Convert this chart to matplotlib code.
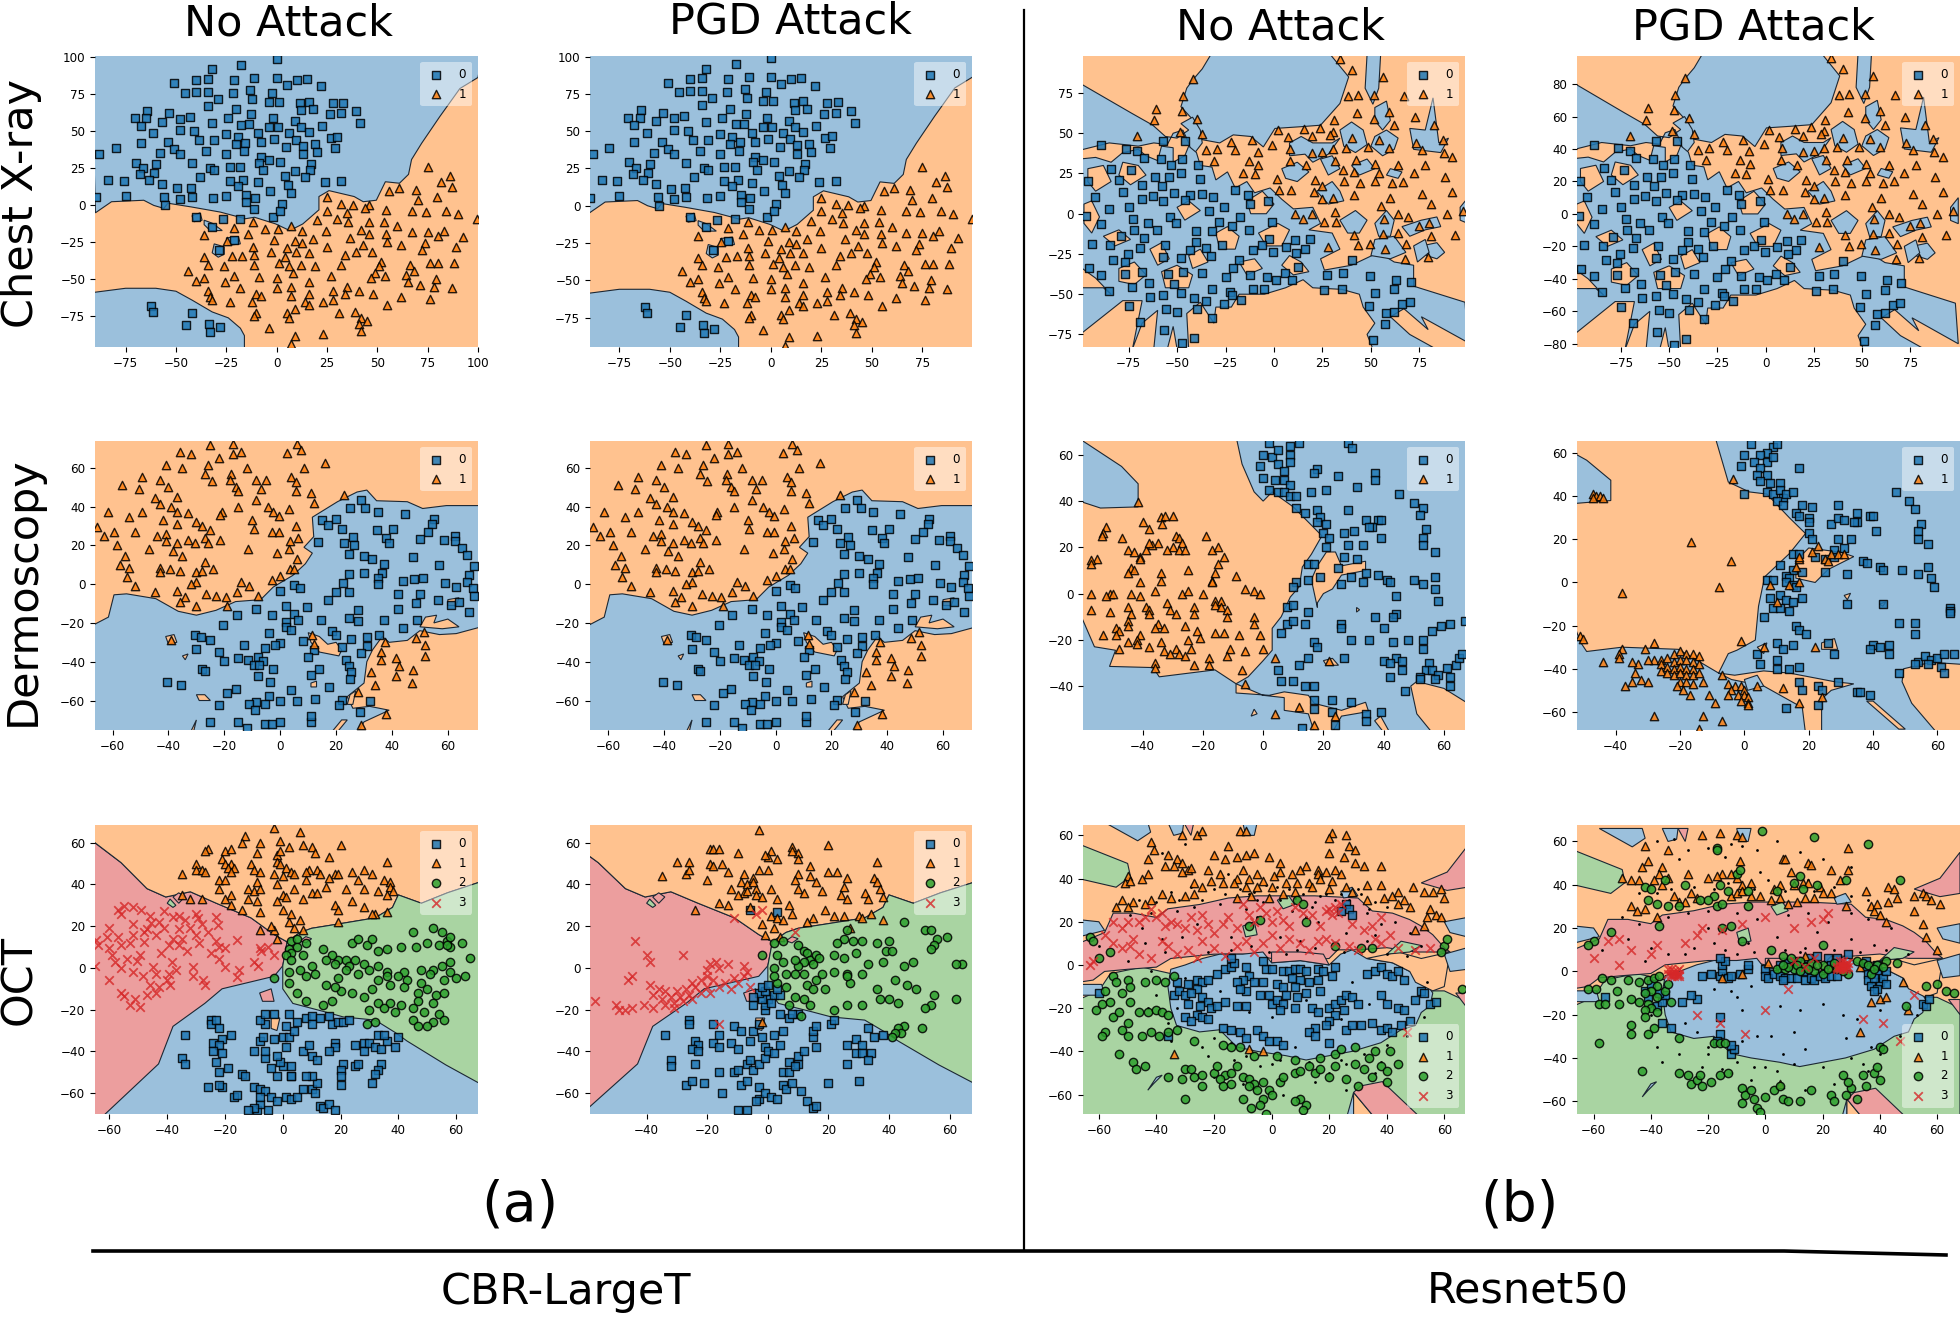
import matplotlib
matplotlib.use('Agg')
import matplotlib.pyplot as plt

W, H = 1960, 1318

# ---- points, one list per class ----
R1A_0 = [(0,99),(-17.5,95),(-32,92),(-51,82.5),(-40,85),(-34,85.5),(-21,85),(-11,86),(0,86),(10,85),(15,85.5),(5,81.5),(22,80.5),(-45.5,76),(-40,77),(-34,77),(-21.5,76),(-13,78),(-2.5,76),(-29,72),(-12,72),(-4,70),(1,70),(11.5,69),(16,70),(-34,67.5),(-20,65),(-12.5,61.5),(12,64.5),(18,65),(28,69),(33,69.5),(39.5,63.5),(32,62.5),(26.5,61.5),(-64.5,64),(-70.5,59),(-65,59),(-53.5,62.5),(-48,58.5),(-43,60),(-67.5,54),(-57,56.5),(-32,56),(-24,59),(-17.5,54.5),(-13.5,55),(-2,59),(-4,53),(0.5,53),(9,57),(12,53),(22.5,53.5),(41.5,55.5),(-61.5,49),(-48,51),(-41,50),(-25,48),(-9.5,49),(6,49),(16,49.5),(-67.5,42.5),(-54,43),(-38.5,44),(-31,44),(-19,46),(-20,41.5),(-15.5,42.5),(-8,43),(-1.5,45),(9.5,44.5),(19,41.5),(27,45.5),(30,46.5),(29,39),(4.5,39.5),(13,40.5),(-51,38),(-58,35.5),(-48,35),(-35,37),(-25,34.5),(-16,36.5),(-88,35),(-80,38.5),(13,34.5),(20,36),(-8,33),(-9,29),(-4,31),(1.5,29.5),(-70,29),(-60,28),(-42,28.5),(17,28),(-66.5,25),(-61,22),(-68,21),(-33,25),(-23,26),(-18,26),(-7,24),(9,23),(16.5,24),(-38,19),(-31,24),(-63.5,17),(-83.5,17),(-76,16.5),(-57,14.5),(-23,16.5),(-16.5,17.5),(-9.5,15.5),(4,20),(14,19.5),(24,16),(32,16.5),(-49.5,11.5),(-42.5,12),(-19,13),(5.5,14),(-3.5,10),(7,8.5),(-31.5,5),(-25,6.5),(-15,7),(-89.5,5.5),(-75,6.5),(-56,6),(-48,4.5),(-42,6),(-10.5,5),(-15,2.5),(2.5,1),(-55.5,0),(-11,-2.5),(-2,-7.5),(1.5,-3.5),(-40,-7.5),(-26.5,-9.5),(-18,-9),(-32,-14.5),(-21,-23.5),(-28.5,-30),(-62.5,-68),(-61.5,-72),(-42,-73),(-45,-81),(-33.5,-80),(-28,-82.5),(-33,-85.5)]
R1A_1 = [(75,26),(86,20),(81.5,16),(87,12.5),(69,10.5),(61,12),(56,10),(25,5.5),(79.5,5.5),(70,4),(32,1),(38,0.5),(46,0),(44,-1.5),(54.5,-3),(67,-3.5),(74,-4.5),(84,-3.5),(90,-5.5),(99.5,-9),(25,-3.5),(35,-5),(30,-9),(20,-10),(35.5,-11.5),(46,-11.5),(53.5,-11),(60,-14),(42,-16.5),(24.5,-17),(12.5,-17),(7,-14),(0.5,-16),(-6,-16),(-11.5,-11),(-21,-15),(67,-18),(75,-18),(83,-17),(92.5,-21.5),(80,-20.5),(54.5,-19),(46,-19),(36.5,-22),(18,-22.5),(9,-24),(-1.5,-23.5),(-14,-19),(-36,-20),(-24.5,-24),(55,-25),(62,-27),(73.5,-25.5),(89,-28),(43,-27),(25,-28),(12.5,-25.5),(5,-29),(-3,-31.5),(-11.5,-28),(72,-30),(47.5,-31.5),(39.5,-31.5),(34,-33.5),(16,-32),(9.5,-31.5),(4,-35),(-11,-33.5),(-17,-34),(-22,-34.5),(-36,-35),(-34,-40),(-26,-41),(-44,-44),(-36,-49),(-40,-51),(-21,-48),(-25.5,-52),(-9,-48.5),(0,-49),(8,-45.5),(-11,-40),(1,-39),(6,-41),(12,-40),(19,-41),(32,-40),(52,-38),(51,-41),(66,-40),(76,-39),(80,-39),(88,-39),(68,-44),(49,-46),(54,-48),(64,-47),(47,-49),(27,-48),(16,-52),(7,-55),(0,-56),(-18,-56),(-34,-58),(-33,-62),(-10,-60),(-8,-61),(7,-61),(16,-60),(28,-58),(35,-55),(41,-58),(48,-60),(65,-52),(71,-54),(79,-50),(87,-56),(78,-55),(62,-62),(76,-63),(55,-67),(34,-60),(28,-64),(23,-65),(14,-65),(16,-67),(9,-70),(-12,-65),(-23,-65),(-32,-64),(5,-73),(6,-76),(-10,-73),(31,-73),(39,-72),(42,-76),(45,-78),(41,-80),(42,-85),(23,-87),(9,-88),(-4,-83),(-11,-75),(7,-94)]
R2A_0 = [(29,43.5),(25,39.5),(30.5,39),(35,37),(44.5,36),(15,33),(17,30.5),(20,33.5),(22,28.5),(55,33.5),(54.5,31),(40.5,28.5),(34.5,28),(53,27),(50,23.5),(26,24.5),(38,24),(39,21),(62.5,25),(62.5,22),(58.5,23),(13.5,21.5),(23,21),(26.5,20),(65,18.5),(67,15),(24.5,15.5),(30,14.5),(33,13),(47.5,14),(37,10.5),(69.5,9.5),(57,10),(24.5,5),(30,5.5),(36.5,5.5),(35,3),(35,0),(44,1.5),(48,2.5),(51,3),(67.5,4.5),(67,1),(59,0.5),(63,-1.5),(69,-2),(69.5,-6),(22.5,0.5),(5,-0.5),(7,-2),(0,-3.5),(20,-4),(24.5,-4),(42,-5),(50,-5),(17,-8),(48.5,-9.5),(56.5,-8),(61,-11),(64,-9),(67.5,-14.5),(42,-13),(-8.5,-13),(2,-11.5),(9.5,-12),(-3,-16),(5,-15.5),(-15.5,-16),(28,-13.5),(2,-19.5),(6.5,-18.5),(14.5,-18.5),(24.5,-17.5),(28,-19),(37,-18.5),(49,-18.5),(-20.5,-21),(2,-22),(4,-23.5),(44,-22.5),(-4,-25),(35.5,-26),(-30.5,-26),(-28.5,-27),(-25,-29),(18.5,-24),(20,-26),(25.5,-28.5),(31,-27.5),(8,-29.5),(0,-30.5),(-2,-31.5),(-13,-31.5),(-5.5,-33),(-30,-33.5),(22,-32.5),(31,-32),(-22,-35),(12,-34),(-20,-39.5),(-15,-38),(-11.5,-39),(-8,-37.5),(-6,-39.5),(-9.5,-41.5),(-7.5,-41.5),(10,-37.5),(23.5,-39),(29,-35.5),(24.5,-42),(25.5,-45.5),(25,-49),(-2.5,-44),(-28,-43.5),(-27,-45),(14,-43.5),(11,-47),(-8,-47.5),(-3.5,-50.5),(-40.5,-50.5),(-35.5,-52),(-16,-54),(-19,-56),(4,-54.5),(17.5,-53),(-4,-57.5),(12.5,-59),(0,-60),(6,-60.5),(22,-59.5),(32,-60.5),(-8.5,-61),(-5.5,-62),(-11,-62),(-22,-62.5),(21,-62.5),(-9,-65),(28.5,-66),(-25,-71),(-15,-71),(-5.5,-72),(-3,-72),(0,-71),(11,-71),(11,-68),(-12,-74)]
R2A_1 = [(-25,71.5),(-17,72),(6,72.5),(7.5,69),(-36,68),(-32,67),(-14,68),(-17,67),(-22,65),(2.5,67.5),(16,62.5),(-41,61.5),(-26,61.5),(-35,60),(-12,60),(8.5,60),(-27,57),(-17.5,57),(-49.5,55),(-43,53.5),(-56.5,51),(-24.5,53),(-18,53.5),(-8.5,53.5),(-5,53.5),(4,55),(5.5,52.5),(-50.5,49),(-40,50),(-16,50),(-15,48),(-7,49),(5.5,48),(11,47),(23,46),(-45,44.5),(-37,45),(-8.5,43.5),(12,42),(-43,41.5),(-39,40),(-15,40),(-4.5,40),(3,38.5),(-61.5,37),(-49.5,37),(-37,37),(-33,36.5),(-21,37),(-21.5,35.5),(-2.5,37),(-0.5,35),(-54,34.5),(-42,33),(-30,32),(-10,33),(-65.5,29.5),(-37,31),(-28,30),(5.5,30),(-9.5,28.5),(-59.5,27),(-52,27),(-25,28),(-3,27),(-0.5,27),(-63,25),(-44,25),(-41,26),(-27,24),(-21.5,23),(-33,23),(-41,22),(-30.5,21),(-26,21),(-37,21),(6.5,24),(3.5,22),(-58.5,20),(-47,18),(-38.5,17),(-11.5,18),(3,18),(-1,16),(-55.5,14.5),(-35,14.5),(6,13),(-57.5,10),(-54,8.5),(-27,11.5),(-43,8.5),(-39.5,8),(-36,7),(-43,6.5),(-30,6.5),(-28,7),(-24,8),(3.5,8),(5,8),(-55,3.5),(0,4),(-3,2),(-14,1),(-30,1),(-32,0),(-52,-1),(-11,-1),(-37,-3.5),(-45,-4),(-15.5,-4),(-26.5,-5),(-23,-6),(-19.5,-6.5),(-34,-6.5),(-8,-6),(-36,-9),(-19,-11.5),(-30,-11.5),(11.5,-26),(12,-31),(37.5,-30),(51.5,-24.5),(48.5,-28),(52,-31.5),(52,-37),(36,-35),(36,-39),(41.5,-38),(42.5,-42),(32.5,-45.5),(41.5,-47.5),(47.5,-44.5),(47,-51),(34,-52),(28,-55.5),(38,-67),(29,-72.5),(-39,-29)]
R1B_0 = [(-89,42.5),(-76.5,40.5),(-70.5,39),(-57,45),(-46,45),(-67,34.5),(-58.5,34),(-53,30),(-47.5,34),(-96,20.5),(-84,28),(-73.5,27),(-80,21),(-61.5,23),(-54,23),(-48,25.5),(-39,30),(-68,18),(-58,17.5),(-38,21.5),(-92.5,10.5),(-78,13.5),(-68,9),(-62.5,11),(-51.5,13),(-43.5,11.5),(-31.5,10.5),(-20,14.5),(-13.5,11.5),(-57,8),(-46,8.5),(-37,12),(-3,8),(-97,-1.5),(-85,3),(-75,4),(-26,4),(-12.5,6),(-72.5,-3),(-65,-5.5),(-53.5,-2),(-50.5,-5.5),(-33.5,2),(-28.5,-5),(-17.5,-2),(-89,-6.5),(-72,-10),(-60.5,-10),(-40,-10.5),(-32,-11),(-21.5,-7.5),(-13,-10),(-1,-5),(-79,-14),(-67,-15),(-94,-19),(-84.5,-19.5),(-69,-21),(-56,-19.5),(-40,-17.5),(-27,-19.5),(-2.5,-16),(-6,-19.5),(11,-16.5),(6,-20.5),(18.5,-16),(16,-22),(-43.5,-22.5),(-35,-21.5),(-32.5,-26.5),(-75.5,-25),(-57,-27),(-48,-27.5),(-83,-28.5),(-11,-22.5),(-0.5,-23.5),(11.5,-24.5),(40,-29),(-18,-29),(-95.5,-34),(-77,-30),(-89,-38),(-77,-37.5),(-68,-36),(-54.5,-37.5),(-47,-36),(-37,-37),(-25,-39),(-21,-34),(-12.5,-38),(-3.5,-39),(12.5,-33),(5.5,-37),(27.5,-38),(35.5,-37),(49.5,-38.5),(63,-41),(70.5,-42.5),(-73,-45.5),(-64.5,-43),(-51.5,-43.5),(-85,-48),(-32,-46.5),(-22.5,-48.5),(-11,-46.5),(-5,-46.5),(1,-41),(9.5,-41),(26,-47.5),(35,-46.5),(52,-49.5),(62,-47),(-64,-52),(-57,-50.5),(-48,-49.5),(-41,-52.5),(-35,-54.5),(-21.5,-50.5),(-17,-53.5),(-26,-56),(-75,-57.5),(-55.5,-59.5),(-50,-61),(-39.5,-59.5),(49,-57.5),(58,-61.5),(62,-61),(66,-56),(70,-55),(-32,-65),(-69,-67),(57,-68.5),(-56.5,-72.5),(-41,-77),(-47.5,-80.5),(51,-78.5)]
R1B_1 = [(34,96),(40,89),(56,85),(-42,84),(38,73),(43.5,74),(51.5,74),(67,73),(-47,73),(-61,65),(-47.5,64),(59.5,63.5),(-39.5,59),(-62,58),(31,58),(43,62.5),(51.5,59),(72.5,60),(82.5,55),(62,55),(2,52),(15.5,52.5),(23.5,53.5),(30.5,51),(-48.5,51),(-37,49.5),(-70.5,48),(-22,44.5),(-11.5,45.5),(40,47),(7,47.5),(19.5,48),(29,49),(54,46),(73,44),(87,46),(-35,39.5),(-29.5,40.5),(-1,43),(-20,39.5),(-8.5,38.5),(8.5,40.5),(19.5,38),(25,38.5),(30.5,40.5),(37,41),(48.5,41.5),(59.5,41),(76.5,39.5),(87.5,38),(92,35),(-31,33),(-13,33),(-8,30.5),(8,33),(16.5,30),(31.5,33),(42.5,33.5),(52,31),(64,30),(78,30),(-16,25),(-10,24.5),(1.5,21.5),(35.5,27),(41,26),(54,25.5),(72,25),(88,23),(21,21),(25,17.5),(36,20.5),(44.5,19),(52,20.5),(61,19),(66.5,20),(2.5,14.5),(9,15),(20.5,13.5),(76.5,12.5),(92,13.5),(25,9),(30.5,9.5),(41,11.5),(60,9.5),(81,6),(55,4.5),(11,0),(19.5,0),(31.5,1),(64,0),(89,0),(97.5,2),(56.5,-3),(69,-2),(80,-5.5),(15,-3),(26,-5),(32,-5),(75,-7.5),(93.5,-13),(41,-13),(56,-12.5),(64,-12),(81,-14),(49.5,-18.5),(68,-18.5),(28,-20.5),(43.5,-19.5),(57,-22),(67.5,-28),(79.5,-27)]
R2B_NO_0 = [(2,65),(9,64),(12,65),(28,65),(29.5,63),(0,60),(3,59),(5,62),(9,60),(9,57),(18,54),(-1,55),(5,56),(7,53),(0,50),(4,49),(7,49),(9,47),(17,52),(25,51),(37,52),(37,49),(2,45),(5,44),(7,44),(9,42),(11,42),(16,44),(21,45),(31,46),(45,43),(50,39),(53,37),(11,37),(14,35),(18,36),(19,33),(28,36),(34,32),(38,32),(39,32),(52,34),(18,31),(21,30),(36,29),(35,29),(20,26),(22,24),(27,26),(30,27),(54,28),(53,24),(53,21),(39,24),(21,20),(28,21),(33,21),(57,18),(27,16),(31,15),(15,13),(17,13),(25,11),(19,7),(29,7),(34,9),(38,8),(41,6),(50,6),(57,7),(11,5),(15,6),(26,4),(33,5),(42,5),(10,3),(53,4),(57,2),(44,-1),(58,-3),(8,-6),(10,-5),(15,-8),(37,-10),(44,-9),(43,-10),(59,-14),(62,-13),(67,-12),(8,-13),(10,-12),(14,-13),(26,-13),(26,-15),(40,-15),(56,-16),(6,-17),(17,-21),(18,-23),(29,-20),(35,-20),(43,-21),(48,-20),(53,-20),(53,-24),(27,-28),(40,-29),(44,-28),(46,-29),(15,-28),(12,-31),(46,-33),(42,-30),(55,-30),(54,-33),(52,-36),(56,-33),(58,-35),(61,-32),(64,-31),(65,-28),(66,-26),(5,-33),(6,-38),(10,-38),(14,-40),(17,-40),(42,-36),(52,-37),(57,-37),(62,-36),(47,-42),(62,-40),(17,-46),(23,-46),(29,-47),(17,-50),(34,-52),(39,-51),(23,-51),(34,-55),(13,-58),(24,-57)]
R2B_NO_1 = [(-41.5,39.5),(-34,33),(-32.5,33.5),(-30,33.5),(-33.5,30),(-40,31),(-38,28),(-52,29),(-53,26),(-53.5,25),(-47,24),(-29,25),(-28,24),(-27,22),(-19,25),(-35,22),(-37,21),(-39,19),(-38,22),(-30,20),(-32,19),(-28,19),(-26,19),(-45,19),(-43,18),(-41,16),(-41,15),(-17,19),(-15,20),(-13,16),(-55,15),(-57,14.5),(-57,13),(-15,13),(-44,11),(-43,10),(-25,10),(-34,9),(-45,9),(-16,9),(-9,7.5),(-34,5.5),(-41,5),(-17,5.5),(-17,5),(-6,2),(-3,1),(-1,0),(-51,0),(-57,0),(-52,-1),(-50,0),(-44,0),(-41,-1),(-36,1),(-27,0),(-20,0),(-25,1),(-16,-3),(-14,-3),(-16,-5),(-32,-4),(-45,-6),(-39,-6),(-38,-7),(-31,-7),(-23,-6),(-14,-6),(-12,-7),(-57,-7),(-51,-8),(-44,-9),(-38,-9),(-29,-9),(-23,-9),(-12,-10),(-3,-10),(-45,-12),(-35,-13),(-26,-14),(-45,-14),(-49,-15),(-48,-16),(-36,-15),(-33,-15),(-22,-16),(-16,-17),(-13,-17),(-3,-13),(-53,-18),(-49,-18),(-41,-18),(-42,-20),(-34,-21),(-25,-20),(-21,-19),(-8,-18),(-1,-18),(-45,-21),(-42,-22),(-38,-23),(-29,-24),(-24,-24),(-48,-24),(-33,-25),(-28,-26),(-11,-24),(-6,-25),(0,-24),(-31,-26),(-26,-27),(-18,-28),(-36,-30),(-18,-31),(-12,-27),(-23,-31),(-36,-32),(-7,-33),(-6,-39),(4,-28),(22,-29),(12,-49),(4,-52),(17,-57),(24,-53)]
R2B_PG_0 = [(2,64),(9,63),(10,64),(0,59),(7,60),(5,59),(3,56),(7,56),(9,58),(-1,54),(5,53),(17,53),(4,50),(7,50),(5,47),(8,46),(11,46),(0,41),(7,42),(9,41),(11,43),(12,39),(13,41),(15,42),(10,38),(12,36),(47,42),(51,38),(53,34),(18,36),(21,35),(29,36),(35,32),(39,31),(40,31),(16,32),(17,31),(20,30),(35,28),(20,28),(27,27),(29,30),(31,29),(34,28),(41,24),(55,27),(54,24),(54,20),(20,23),(21,20),(29,20),(33,20),(57,18),(28,15),(31,16),(15,13),(17,13),(37,10),(22,12),(25,11),(28,12),(38,9),(42,7),(43,6),(49,6),(57,7),(11,8),(15,6),(13,3),(14,2),(25,5),(32,4),(18,5),(54,4),(58,2),(7,1),(9,1),(13,0),(15,-1),(16,-2),(59,-2),(8,-7),(11,-6),(13,-8),(18,-7),(15,-9),(32,-10),(9,-12),(11,-12),(14,-13),(43,-10),(64,-12),(64,-13),(64,-14),(6,-16),(16,-20),(17,-22),(19,-24),(48,-19),(53,-19),(53,-24),(10,-28),(15,-29),(26,-28),(40,-29),(42,-30),(45,-29),(39,-31),(12,-31),(45,-33),(4,-33),(10,-36),(10,-40),(14,-40),(17,-39),(28,-33),(54,-37),(56,-34),(58,-36),(60,-35),(62,-33),(65,-33),(53,-38),(57,-38),(61,-39),(5,-38),(48,-42),(62,-42),(17,-46),(23,-48),(29,-46),(18,-50),(24,-50),(35,-51),(39,-52),(23,-57),(36,-51),(13,-58)]
R2B_PG_1 = [(-47,41),(-46,40),(-45,40),(-44,39),(-47,39),(-3.5,48),(-16.5,19),(-4,10),(-8,-2),(-38,-5),(-51,-25),(-50,-26),(-38,-31),(-39,-33),(-39,-35),(-44,-37),(-31,-31),(-28,-28),(-28,-36),(-30,-36),(-33,-38),(-35,-37),(-26,-36),(-24,-35),(-22,-33),(-20,-32),(-18,-33),(-16,-33),(-14,-34),(-34,-42),(-35,-46),(-37,-48),(-32,-45),(-30,-46),(-26,-38),(-26,-41),(-24,-39),(-24,-42),(-22,-37),(-22,-40),(-22,-43),(-20,-36),(-20,-39),(-20,-42),(-20,-46),(-18,-36),(-18,-40),(-18,-43),(-18,-46),(-16,-37),(-16,-40),(-16,-43),(-16,-47),(-14,-38),(-14,-42),(-13,-46),(-21,-48),(-19,-50),(-17,-52),(-11,-52),(-9,-56),(-7,-43),(-5,-47),(-3,-48),(-1,-48),(-4,-50),(0,-50),(-5,-52),(-2,-52),(0,-52),(-1,-55),(1,-53),(1,-56),(1,-57),(4,-48),(12,-49),(17,-56),(24,-53),(-13,-62),(-7,-64),(-28,-62),(-14,-68),(6,-30),(22,-30),(10,-9),(8,-1),(14,-1),(16,7),(17,11),(23,17),(17,12),(21,14),(25,11),(26,10),(27,13),(29,13),(31,13),(17,0),(-1,-27)]
R3A_NO_0 = [(-25,-25),(-25,-27),(-23,-25),(-22,-29),(-34,-32),(-24,-36),(-21,-34),(-22,-37),(-18,-32),(-21,-41),(-24,-40),(-35,-43),(-34,-46),(-23,-45),(-22,-50),(-19,-48),(-14,-51),(-13,-52),(-26,-57),(-21,-57),(-22,-56),(-17,-62),(-16,-61),(-10,-57),(-8,-58),(-6,-59),(-9,-68),(-5,-68),(-8,-65),(-8,-62),(-4,-62),(-2,-64),(1,-62),(3,-63),(5,-62),(7,-58),(10,-58),(11,-60),(12,-55),(10,-52),(8,-52),(3,-52),(-2,-52),(-4,-48),(0,-47),(3,-47),(-1,-45),(-6,-43),(-10,-40),(-6,-40),(-8,-35),(-7,-33),(-3,-34),(0,-33),(2,-33),(4,-30),(1,-28),(-6,-27),(-8,-25),(-6,-22),(-3,-22),(2,-22),(5,-26),(8,-24),(10,-23),(13,-24),(10,-27),(17,-27),(19,-26),(21,-26),(16,-23),(23,-25),(18,-36),(18,-38),(16,-40),(10,-42),(12,-44),(7,-40),(9,-37),(1,-38),(-2,-42),(3,-52),(21,-46),(20,-49),(20,-52),(20,-56),(25,-47),(25,-37),(28,-36),(28,-40),(30,-36),(32,-38),(34,-39),(36,-35),(33,-32),(35,-32),(39,-38),(40,-33),(34,-46),(33,-49),(32,-51),(31,-55),(26,-46),(-10,-67),(-12,-68),(13,-66),(14,-67),(16,-65),(18,-68)]
R3A_NO_1 = [(-3,67),(6,65),(-13,63),(-14,60),(-8,60),(-1,61),(7,59),(10,58),(2,58),(20,59),(-26,57),(-27,56),(-20,56),(-18,57),(-9,55),(-2,54),(-1,56),(11,55),(16,53),(36,51),(-30,50),(-30,47),(-21,52),(-20,50),(-18,50),(-11,50),(-2,51),(-1,50),(-17,48),(-19,48),(-18,46),(1,48),(9,47),(-35,45),(-28,47),(-27,46),(-10,47),(-8,46),(-3,45),(3,46),(4,45),(8,46),(12,47),(13,45),(18,45),(19,45),(24,46),(28,47),(31,45),(-22,42),(-20,42),(-9,41),(-12,38),(0,44),(-2,40),(8,42),(16,43),(26,42),(35,42),(37,41),(-22,38),(-10,37),(-8,38),(0,35),(4,38),(10,36),(15,39),(22,38),(28,38),(33,37),(37,39),(38,37),(-20,33),(-18,35),(-12,33),(-9,32),(-2,32),(1,34),(7,33),(12,36),(18,30),(24,32),(36,35),(-35,35),(-32,33),(-28,33),(-18,30),(-14,28),(-8,27),(0,28),(3,26),(6,23),(19,28),(19,22),(32,26),(36,27),(31,26),(28,29),(-8,18),(-3,18),(-2,14),(-4,20),(2,22),(4,19),(7,18)]
R3A_NO_2 = [(3,13),(5,14),(8,12),(14,9),(2,9),(5,10),(7,6),(3,7),(1,6),(3,4),(19,4),(22,4),(25,4),(17,6),(24,12),(26,14),(29,11),(31,14),(33,8),(36,9),(41,10),(46,10),(50,12),(54,11),(57,13),(58,10),(62,12),(52,19),(55,17),(58,15),(57,11),(45,17),(65,5),(58,3),(55,1),(52,-1),(48,-1),(42,-2),(36,-2),(33,1),(28,2),(23,1),(18,2),(15,4),(10,1),(6,-1),(2,-2),(-3,-5),(2,-7),(8,-4),(11,-3),(15,-8),(19,-5),(22,-1),(26,-3),(30,-1),(33,-6),(36,-4),(40,-4),(43,-6),(48,-7),(51,-3),(58,-2),(63,-4),(60,-5),(56,-6),(50,-10),(47,-12),(53,-13),(56,-12),(47,-16),(45,-19),(52,-17),(54,-22),(49,-21),(41,-18),(37,-17),(33,-17),(30,-20),(28,-14),(24,-12),(20,-11),(18,-9),(17,-16),(14,-18),(8,-16),(5,-12),(42,-9),(37,-8),(31,-10),(35,-19),(39,-21),(45,-25),(52,-26),(56,-25),(47,-28),(50,-28),(32,-26),(29,-27)]
R3A_NO_3 = [(-57,28),(-55,29.5),(-52,29),(-49,28),(-56,26),(-46,25),(-41,27.5),(-38,24.5),(-36,25),(-30,26),(-29.5,24),(-23,24.5),(-52,21),(-45.5,21.5),(-22.5,20.5),(-60,19),(-47,18.5),(-41,19),(-36,18.5),(-32,19),(-26,17),(-64.5,13.5),(-61,15),(-57,15),(-52,16),(-44,16),(-38,14),(-35,14),(-23,13),(-16,13.5),(-64,11),(-60,9.5),(-56,11),(-48,12.5),(-39.5,11),(-36,11),(-22,10),(-20,9.5),(-8,9.5),(-7.5,8),(-54,4.5),(-49.5,6),(-65,1),(-58,3),(-56,0),(-50.5,3.5),(-45,0.5),(-38.5,3),(-31,0.5),(-22,4.5),(-20,0.5),(-8.5,1),(-3,6),(-60,-6),(-48.5,-4),(-39.5,-3),(-31,-4),(-27.5,-6),(-16,-4.5),(-46,-8),(-43,-9),(-56,-12),(-47,-13),(-53,-18),(-49.5,-18.5),(-55,-13.5),(-40,-6),(-37,-1),(-33,8),(-29,12),(-30,16),(-28,21),(-34,23),(-43,22),(-48,17),(-53,12),(-59,6),(-42,7),(-44,-3),(-52,-2),(-25,7),(-15,-1),(-10,3),(-5,10),(-39,-8),(-27,-8),(-44,-12),(-51,-15)]
R3A_PG_0 = [(-34,-32),(-26,-25),(-26,-27),(-18,-27),(-16,-32),(-11,-28),(-9,-30),(-5,-30),(-3,-27),(-24,-35),(-23,-37),(-25,-39),(-23,-40),(-18,-36),(-16,-38),(-12,-36),(-10,-39),(-32,-44),(-32,-47),(-24,-46),(-16,-50),(-11,-50),(-10,-49),(-27,-56),(-25,-54),(-21,-55),(-15,-60),(-9,-56),(-7,-54),(-7,-46),(-6,-44),(-5,-49),(-3,-46),(-1,-43),(-1,-38),(0,-40),(2,-41),(4,-37),(-6,-35),(-2,-33),(2,-32),(5,-30),(-3,-57),(-3,-63),(-1,-60),(-10,-68),(-7,-68),(-4,-64),(1,-62),(3,-63),(5,-56),(5,-50),(7,-50),(7,-45),(10,-46),(10,-42),(12,-40),(9,-47),(6,-58),(8,-55),(11,-59),(13,-64),(15,-67),(16,-66),(20,-55),(30,-54),(26,-46),(26,-37),(29,-34),(31,-37),(29,-41),(31,-41),(35,-33),(34,-41),(33,-44),(16,-38),(15,-33),(15,-30),(16,-28),(21,-27),(22,-25),(10,-22),(7,-24),(4,-22),(-1,-20),(-1,-18),(0,-15),(-2,-15),(-3,-12),(-1,-11),(-2,-9),(0,-8),(2,-13),(1,-17),(-5,-18),(-5,-14),(4,-13),(3,-10),(8,-22),(-6,28),(3,27),(33,-29),(38,-32)]
R3A_PG_1 = [(-3,66),(20,59),(8,58),(-19,57),(-18,57),(-16,57),(10,55),(1,56),(8,56),(-10,55),(0,53),(-1,54),(36,51),(-30,51),(-26,51),(-19,50),(-18,49),(-15,50),(3,52),(10,52),(14,49),(23,46),(-27,45),(-26,47),(-13,46),(-8,45),(-5,43),(-4,38),(0,47),(-3,47),(10,45),(14,44),(20,46),(26,43),(35,43),(-35,44),(-20,42),(-12,38),(-9,41),(-7,40),(-5,41),(-8,36),(-7,37),(-4,35),(1,38),(9,42),(10,38),(16,41),(25,39),(36,41),(37,38),(-10,35),(-2,34),(3,33),(12,36),(18,37),(24,35),(32,36),(38,34),(-24,28),(-16,31),(-13,30),(7,30),(26,33),(33,33),(-6,29),(-2,21),(1,25),(3,24),(5,23),(-1,16),(2,19),(4,15),(8,26),(19,28),(22,25),(25,25),(30,25),(31,24),(34,26),(38,23),(13,22),(15,24),(27,19),(-2,-26)]
R3A_PG_2 = [(2,12),(5,13),(10,11),(26,18),(45,22),(52,18),(54,18),(59,15),(12,8),(25,14),(23,12),(28,13),(31,13),(36,12),(40,13),(56,14),(55,11),(54,9),(39,8),(41,8),(3,6),(5,3),(-2,6),(13,7),(14,4),(15,2),(12,3),(10,1),(9,4),(16,6),(17,5),(22,6),(25,5),(29,7),(33,2),(38,3),(45,1),(48,3),(64,2),(62,2),(2,0),(6,-3),(9,-3),(12,-3),(18,-3),(22,-2),(26,-3),(31,-3),(27,-7),(16,-6),(13,-8),(15,-10),(19,-10),(26,-4),(42,-6),(46,-8),(49,-10),(36,-10),(55,-13),(40,-15),(43,-17),(37,-15),(12,-15),(9,-14),(6,-9),(3,-7),(2,-4),(26,-18),(31,-18),(54,-18),(62,-15),(52,-19),(14,-18),(7,-18),(11,-23),(22,-20),(45,-28),(43,-29),(44,-31),(42,-31),(51,-29),(41,-33)]
R3A_PG_3 = [(-44,13),(-40,6),(-39,3),(-28,6),(-45,-4),(-46,-6),(-17,3),(-19,2),(-20,-1),(-16,0),(-13,2),(-8,1),(-7,-2),(-8,-4),(-11,-5),(-20,-4),(-22,-6),(-25,-7),(-18,-6),(-14,-7),(-10,-7),(-16,-9),(-20,-9),(-24,-9),(-27,-10),(-30,-11),(-34,-11),(-12,-10),(-6,-9),(-22,-12),(-26,-13),(-29,-14),(-32,-14),(-35,-15),(-19,-12),(-28,-16),(-31,-17),(-34,-18),(-25,-15),(-38,-19),(-41,-18),(-36,-10),(-38,-13),(-31,-19),(-39,-8),(-57,-16),(-50,-18),(-49,-20),(-47,-20),(-45,-19),(-2,28),(-4,26),(-16,-27),(9,17),(-11,24)]
R3B_NO_0 = [(-60,-13),(-34,-14),(-32,-12),(-30,-14),(-33,-8),(-29,-9),(-26,-7),(-24,-8),(-22,-7),(-19,-4),(-16,-2),(-14,-1),(-13,1),(-14,3),(-9,-1),(-8,-5),(-10,-7),(-12,-8),(-6,-8),(-3,-8),(-2,-2),(-3,2),(0,-2),(4,-3),(6,-3),(8,-2),(10,-2),(12,-3),(16,-2),(18,-3),(22,-1),(21,-5),(7,-6),(10,-7),(13,-8),(16,-7),(8,-10),(2,-9),(4,-10),(-9,-12),(-11,-11),(-4,-14),(-1,-14),(5,-14),(9,-15),(12,-13),(17,-12),(-26,-11),(-28,-13),(-24,-15),(-22,-17),(-29,-18),(-25,-19),(-21,-20),(-19,-19),(-16,-17),(-12,-19),(-9,-19),(0,-18),(2,-16),(4,-18),(8,-20),(3,-21),(14,-20),(16,-22),(20,-20),(22,-18),(24,-16),(26,-14),(28,-15),(30,-18),(25,-21),(22,-23),(20,-26),(19,-28),(15,-29),(-36,-33),(-26,-23),(-24,-24),(-22,-25),(-30,-24),(-28,-26),(-17,-29),(-14,-30),(-11,-31),(-9,-34),(-5,-30),(-3,-33),(-1,-35),(2,-35),(4,-37),(13,-31),(15,-33),(20,-36),(26,-30),(28,-28),(31,-28),(35,-27),(38,-30),(40,-29),(42,-31),(45,-28),(48,-26),(38,-14),(40,-18),(44,-20),(46,-21),(50,-16),(55,-18),(57,-17),(52,-12),(33,-4),(36,-3),(38,-1),(40,-4),(42,-5),(44,-3),(46,-7),(53,-13),(26,28),(27,26),(24,25),(28,23)]
R3B_NO_1 = [(-42,57),(-41,53),(-43,49),(-36,51),(-33,49),(-37,46),(-34,46),(-31,47),(-29,44),(-28,45),(-31,43),(-43,42),(-50,41),(-51,38),(-49,39),(-45,40),(-26,60),(-24,62),(-31,60),(-11,62),(-9,62),(-6,52),(-15,55),(-20,51),(-16,49),(-12,50),(-9,51),(-1,50),(3,47),(16,44),(21,61),(20,59),(26,60),(20,52),(27,55),(29,53),(25,50),(29,47),(32,46),(38,46),(-22,44),(-27,38),(-24,36),(-18,42),(-12,40),(-10,44),(-8,40),(-5,42),(-3,39),(1,41),(3,43),(7,42),(10,44),(12,46),(16,42),(19,43),(22,44),(24,42),(21,39),(17,40),(13,38),(9,38),(5,38),(0,36),(-5,36),(-9,36),(-13,38),(-17,38),(-21,39),(-27,33),(-30,32),(-35,31),(-38,33),(-42,30),(-48,29),(-52,30),(-54,27),(-50,27),(-44,28),(-12,31),(-7,32),(-1,31),(4,33),(8,34),(14,36),(20,35),(26,36),(28,34),(33,37),(38,37),(42,32),(46,30),(44,34),(49,36),(53,34),(56,34),(59,35),(60,31),(39,31),(33,30),(48,27),(55,26),(57,23),(59,22),(54,22),(50,16),(53,18),(44,28),(-34,-41),(-8,-39),(-3,-40)]
R3B_NO_2 = [(-63,13),(-62,11),(-60,3),(-56,6),(-55,-5),(-54,-8),(-50,-7),(-49,-10),(-52,-13),(-58,-12),(-44,-8),(-40,-7),(-37,-8),(-34,-5),(-61,-21),(-59,-18),(-56,-17),(-55,-24),(-53,-22),(-49,-17),(-46,-22),(-43,-22),(-40,-21),(-38,-22),(-36,-23),(-50,-27),(-52,-30),(-58,-31),(-59,-33),(-50,-33),(-45,-33),(-42,-31),(-39,-33),(-36,-31),(-33,-30),(-27,-35),(-53,-41),(-48,-45),(-44,-47),(-47,-48),(-36,-52),(-30,-48),(-28,-48),(-27,-52),(-24,-51),(-20,-50),(-19,-47),(-16,-51),(-18,-53),(-14,-50),(-12,-47),(-10,-52),(-8,-53),(-6,-55),(-3,-54),(-1,-58),(-24,-56),(-17,-56),(-14,-55),(-31,-53),(-30,-62),(-8,-56),(-5,-58),(-3,-62),(0,-60),(3,-54),(4,-52),(8,-50),(10,-49),(13,-47),(15,-50),(17,-48),(20,-52),(22,-47),(26,-53),(29,-46),(32,-48),(30,-56),(35,-52),(38,-47),(34,-43),(40,-49),(44,-46),(40,-54),(10,-62),(12,-65),(8,-63),(11,-67),(-10,-62),(-4,-65),(-7,-66),(-2,-69),(-17,-37),(-14,-38),(-11,-38),(-6,-42),(2,-42),(8,-44),(17,-43),(22,-41),(24,-39),(29,-38),(36,-40),(41,-40),(9,30),(11,28),(-4,21),(-8,18),(12,20),(22,9),(31,8),(35,8),(60,9),(61,12),(59,6),(66,-11)]
R3B_NO_3 = [(-62,2),(-63,0),(-58,14),(-55,20),(-52,17),(-50,20),(-46,20),(-48,12),(-44,22),(-42,26),(-40,22),(-37,18),(-38,24),(-35,20),(-33,19),(-30,17),(-28,22),(-26,16),(-24,23),(-22,19),(-20,15),(-17,19),(-15,22),(-12,17),(-10,28),(-8,23),(-6,20),(-4,27),(-2,24),(0,20),(2,25),(4,21),(6,18),(8,27),(11,24),(14,23),(17,18),(20,26),(21,23),(19,25),(23,24),(22,27),(24,28),(28,19),(32,16),(35,18),(38,22),(-55,10),(-52,8),(-49,9),(-46,5),(-42,3),(-38,11),(-36,9),(-33,5),(-29,7),(-26,3),(-24,11),(-20,8),(-16,4),(-12,9),(-9,11),(-6,6),(-3,10),(0,14),(3,8),(6,12),(10,10),(13,7),(16,11),(19,12),(22,10),(27,9),(30,7),(36,12),(38,10),(41,14),(44,8),(50,7),(55,8),(47,-31)]
R3B_PG_0 = [(-56,-12),(-38,-16),(-36,-14),(-35,-11),(-24,-13),(-29,-14),(-26,-11),(-22,-2),(-19,-1),(-16,-2),(-15,0),(-15,3),(-14,5),(-16,6),(-13,-3),(-12,-2),(-9,-1),(-6,1),(-6,3),(0,1),(0,-2),(1,-3),(3,-1),(5,-2),(7,-3),(9,-3),(11,-3),(14,-4),(16,-3),(17,-4),(19,-2),(21,-3),(23,-2),(25,-2),(5,3),(8,4),(11,5),(15,6),(18,7),(22,6),(35,5),(35,2),(36,-1),(36,-4),(37,-7),(39,-1),(40,-5),(39,-8),(41,-3),(42,-6),(38,-3),(39,3),(-16,-21),(-33,-26),(-36,-24),(-16,-29),(-17,-32),(-12,-38),(-11,-36),(-12,-34),(55,-15),(56,-16),(57,-13),(-41,-12),(-42,-9),(-37,-10),(-40,-6),(38,-9),(42,0),(6,-4),(13,0),(23,3),(25,6),(29,8)]
R3B_PG_1 = [(-42,58),(-41,51),(-43,48),(-34,56),(-22,63),(-16,64),(-10,63),(-8,62),(29,57),(-15,45),(-36,48),(-37,45),(-34,43),(-27,45),(-9,51),(6,52),(7,52),(15,50),(16,49),(23,47),(29,47),(9,46),(-47,42),(-50,43),(-44,42),(-39,42),(-36,40),(-20,43),(-17,44),(-12,45),(-10,43),(-8,40),(-5,41),(3,38),(5,40),(10,40),(13,41),(15,41),(19,39),(23,36),(26,42),(-32,35),(-30,32),(-28,32),(-26,36),(-24,34),(-12,35),(-10,36),(-8,37),(-5,35),(-2,35),(2,33),(5,34),(8,31),(11,32),(14,34),(17,34),(20,36),(28,30),(35,37),(37,30),(43,39),(45,38),(46,34),(38,28),(40,26),(42,23),(39,31),(43,32),(52,35),(55,36),(56,35),(58,33),(52,28),(55,22),(61,31),(56,16),(60,10),(-45,28),(-47,30),(-42,29),(-38,25),(-15,-3),(-8,-1),(1,4),(14,7),(23,2),(33,2),(37,-14),(40,-13),(42,-12),(48,-5),(50,-18),(33,-28),(5,-52)]
R3B_PG_2 = [(-1,65),(17,62),(-17,57),(-17,56),(36,59),(-42,39),(-40,38),(-35,42),(-28,40),(-16,40),(-10,45),(-9,47),(12,44),(18,40),(28,42),(47,42),(-18,35),(-17,30),(-13,37),(-6,37),(4,37),(10,41),(13,38),(-41,33),(-38,31),(-34,30),(-30,30),(-23,33),(-20,33),(-15,31),(-6,30),(-15,20),(-12,21),(-37,21),(-8,14),(-60,14),(-62,12),(-54,18),(20,12),(2,10),(6,7),(9,6),(12,5),(16,4),(20,3),(24,4),(4,1),(7,1),(10,1),(14,2),(17,0),(20,-1),(25,1),(29,-1),(32,5),(34,4),(36,3),(39,3),(42,5),(46,4),(-57,-3),(-54,-4),(-48,-4),(-44,-5),(-41,-4),(-39,-3),(-37,-2),(-38,-7),(-40,-9),(-42,-10),(-38,-12),(-35,-9),(-34,-6),(-62,-8),(-59,-8),(-52,-9),(-47,-13),(-44,-14),(-51,-15),(-58,-15),(-41,-15),(-56,-15),(-40,-17),(-42,-18),(-38,-19),(-47,-25),(-42,-21),(-33,-14),(-47,-29),(-41,-29),(-39,-26),(-58,-33),(-30,-31),(-18,-33),(-16,-33),(-14,-33),(-43,-46),(-30,-47),(-27,-48),(-26,-52),(-24,-50),(-22,-53),(-19,-51),(-16,-48),(-13,-47),(-23,-48),(-8,-54),(-7,-57),(-5,-55),(-4,-59),(-8,-61),(-3,-63),(0,-58),(-2,-65),(3,-55),(5,-53),(6,-59),(8,-60),(12,-60),(16,-55),(23,-57),(24,-60),(28,-57),(30,-54),(32,-59),(35,-53),(40,-50),(34,-48),(38,-47),(39,-44),(29,-51),(27,-48),(40,-35),(41,-36),(49,-16),(56,-7),(60,-6),(63,-9),(66,-10),(8,2),(11,3),(15,1),(18,3),(22,1),(27,0),(12,0),(6,3),(37,-1),(38,1),(41,2)]
R3B_PG_3 = [(-34,-1),(-33,-2),(-32,-1),(-31,-1),(-30,-1),(-32,0),(-31,0),(-30,-2),(-33,-1),(-32,-2),(-31,-2),(-34,1),(-30,1),(-33,1),(26,5),(27,5),(28,4),(26,3),(27,3),(28,3),(25,2),(26,2),(27,2),(28,2),(25,1),(26,1),(27,1),(28,1),(29,2),(29,4),(-24,-20),(-16,-24),(-7,-29),(0,-18),(8,-8),(34,-22),(41,-24),(52,-11),(-60,6),(-55,14),(-51,15),(-51,3),(-47,10),(-40,8),(-38,12),(-28,13),(-24,17),(-22,20),(-15,19),(-8,22),(0,25),(10,20),(16,23),(20,24),(22,27),(14,2),(10,5),(17,6),(47,-32)]
SPECKS_NO = [(-38,52),(-30,56),(-28,44),(-15,42),(-8,33),(-5,30),(2,36),(8,31),(17,32),(30,35),(34,26),(-45,17),(-38,12),(-26,19),(-14,13),(-5,22),(3,13),(10,11),(16,20),(26,15),(36,14),(48,15),(-30,-6),(-18,-12),(-8,-22),(0,-24),(12,-16),(24,-25),(34,-18),(40,-28),(-24,-38),(-14,-36),(0,-46),(8,-38),(20,-50),(38,-45),(-10,-55),(4,-60),(-43,-20),(-35,-35),(-20,-52),(26,-46),(36,-50),(28,-8),(5,5),(12,22),(22,30),
    (-46,30),(-40,29),(-35,34),(-32,30),(-28,36),(-24,30),(-20,35),(-16,33),(-11,35),(-6,34),(-2,37),(3,30),(6,35),(11,33),(15,29),(19,33),(24,33),(27,30),(31,33),(36,29),(40,27),(-49,23),(-42,24),(-33,25),(-27,27),(-18,28),(-9,26),(-3,29),(7,25),(14,27),(25,28),(33,24),(38,19),(43,20),(-60,9),(-50,2),(-44,10),(-37,6),(-31,13),(-22,6),(-14,7),(-7,9),(-1,6),(9,7),(15,8),(25,6),(33,11),(40,5),(47,4),(52,9),(-40,-14),(-42,-3),(-33,-20),(-36,-27),(-20,-34),(-9,-42),(3,-44),(13,-45),(24,-44),(32,-41),(40,-37),(47,-33),(53,-24),(54,-8),(-22,-42),(-13,-44),(-4,-47),(15,-54),(26,-58)]
SPECKS_PG = [(-30,52),(-27,56),(-14,53),(-8,58),(-2,46),(15,42),(30,48),(-20,20),(-14,10),(-6,13),(4,16),(12,9),(18,18),(30,15),(38,12),(-28,8),(-40,11),(-28,-24),(-24,-28),(-10,-12),(-8,-18),(5,-16),(12,-18),(20,-15),(27,-20),(32,-22),(40,-18),(-8,-32),(-3,-30),(-20,-38),(-10,-42),(-4,-44),(2,-30),(10,-28),(14,-36),(28,-31),(37,-35),(-15,-45),(-5,-50),(14,-55),(24,-52),(34,-43),(36,-46),(-20,-35),(-38,-35),(4,-46),(-36,-42),(6,-38),
    (-38,60),(-32,61),(-20,57),(-12,59),(-3,56),(4,60),(12,55),(20,52),(-44,36),(-38,36),(-33,38),(-25,39),(-18,38),(-13,41),(-4,38),(1,42),(7,37),(17,37),(24,39),(30,35),(36,33),(-50,25),(-44,22),(-34,25),(-27,27),(-20,28),(-10,27),(-3,24),(8,26),(15,27),(22,23),(30,27),(36,24),(44,20),(-57,10),(-48,15),(-42,5),(-34,8),(-25,11),(-18,13),(-10,8),(-4,9),(7,10),(14,11),(24,10),(33,9),(42,10),(50,8),(-25,-10),(-18,-8),(-12,-9),(-5,-7),(-40,-20),(-30,-38),(-22,-44),(-12,-47),(0,-44),(10,-43),(20,-44),(30,-40),(40,-38),(47,-30),(53,-20)]

# ---- decision regions, (class, vertices) ----
R1A_REG = [
    (0, [(-90,-5),(-82,2.5),(-66,3.5),(-61,0),(-56,-2),(-54,1.5),(-42.5,-1),(-28,-4.5),(-15.5,-9),(-11,-8),(-0.5,-12.5),(6.5,-17),(13,-12.5),(21,-3),(21,6),(26,10),(38.5,6),(43,2.5),(49.5,3.5),(54,16),(61,15),(65.5,21),(67,31),(72,42),(81,60),(91,79),(100,86.5),(102,102),(-92,102)]),
    (0, [(-92,-59),(-75,-56),(-60,-56),(-50,-58),(-42,-64),(-32,-72),(-24,-76),(-18,-83),(-16,-88),(-16,-98),(-92,-98)]),
    (0, [(-31,-26),(-26,-28),(-26,-33),(-29,-35),(-32,-32)]),
    (0, [(-25,-22),(-19,-21),(-18,-26),(-24,-27)]),
    (0, [(-36,-10),(-32,-12),(-27,-17),(-33,-17),(-36,-13)]),
    (0, [(-42,-7),(-38,-5),(-37,-10),(-41,-11)]),
]
R2A_REG = [
    (1, [(-68,75),(72,75),(72,40.5),(59.5,40.5),(51,39),(45.5,42.5),(34.5,43),(31,48.5),(27.5,47.5),(20.5,42.5),(11.5,34.5),(12,24.5),(8.5,19),(11.5,16),(9,10.5),(4.5,4.5),(-2.5,-1.5),(-7,-8),(-16,-9),(-23,-13.5),(-30,-16),(-36.5,-14),(-44.5,-7.5),(-55,-5),(-59.5,-5.5),(-61.5,-17),(-66.3,-20.6),(-68,-22)]),
    (1, [(72,-22),(63,-25.5),(57,-26),(50,-24),(45.5,-29),(39,-30),(36.5,-27),(33,-34),(31,-40),(30,-51),(24,-58),(26,-64),(32,-63),(39,-65),(30,-71),(27.5,-77),(72,-77)]),
    (1, [(10,-25),(14,-27),(17,-31),(20,-30),(22,-34),(21,-37),(14,-35),(11,-30)]),
    (1, [(50,-22),(52,-17),(56,-16),(55,-20),(60,-18),(64,-22),(58,-23)]),
    (1, [(60,-8),(64,-7),(63,-11),(60,-11)]),
    (1, [(-41,-27),(-38,-26),(-37,-30),(-40,-31)]),
    (1, [(-35,-37),(-33,-36),(-34,-39)]),
    (1, [(-30,-57),(-27,-57),(-25,-60),(-29,-60)]),
    (1, [(11,-51),(13,-50),(13,-53),(11,-53)]),
    (1, [(-32,-76),(-30,-70),(-31,-76)]),
    (1, [(18,-77),(22,-70),(24,-70),(20,-77)]),
    (1, [(25,-57),(27,-55),(26,-62),(24,-62)]),
]
R1B_REG = [
    (0, [(-32.5,99),(-37,90),(-42,83),(-45,78),(-48,66.5),(-40,56),(-37,46),(-28,44),(-21,49),(-12,48),(-5.5,41.5),(0.5,53),(13,54),(24,55),(34,68.5),(38.5,85),(29,99)]),
    (0, [(48,99),(47,78),(51,68),(54,78),(55,99)]),
    (0, [(-100,81),(-73.5,62.5),(-62.5,55),(-56,48),(-50,47),(-44,52),(-48,56),(-42,60),(-38,52),(-37,44),(-42,36),(-44,44),(-47,52),(-52,50),(-55,43),(-62,44),(-70,42),(-85,44),(-100,39.5)]),
    (0, [(-100,34),(-92,35),(-84,32),(-78,38),(-70,40),(-66,36),(-60,33),(-58,42),(-52,41),(-52,32),(-46,36),(-44,42),(-40,38),(-38,30),(-32,29),(-30,21),(-24,26),(-20,16),(-14,20),(-10,13),(-2,16),(4,9),(10,3),(20,4),(24,-6),(18,-10),(30,-12),(34,-22),(24,-28),(26,-35),(40,-32),(54,-24),(62,-30),(72,-32),(72,-45),(98.5,-55),(100,-80),(76,-64),(79.5,-72),(67,-59),(60,-64),(70,-75),(82,-83),(51,-84),(48,-75),(52,-68),(46,-58),(44,-50),(35,-47),(20,-46),(15,-41),(6,-46),(-5,-50),(-18,-50),(-22,-58),(-30,-58),(-31,-68),(-38,-55),(-45,-62),(-44,-84),(-50,-84),(-52,-70),(-55,-84),(-62,-84),(-60,-60),(-68,-68),(-73,-84),(-68,-54),(-78,-54),(-100,-75),(-100,-46),(-88,-46),(-84,-50),(-92,-40),(-100,-33)]),
    # blue bits out on the orange side
    (0, [(8,44),(14,48),(20,44),(30,44),(34,47),(28,37),(20,32),(16,37),(8,36)]),
    (0, [(34,52),(40,57),(46,52),(48,43),(42,38),(36,42)]),
    (0, [(52,66),(58,70),(60,58),(56,52),(52,58)]),
    (0, [(52,48),(58,52),(64,47),(62,40),(56,36),(50,42)]),
    (0, [(70,53),(78,52),(82,72),(85,44),(90,47),(86,38),(72,40)]),
    (0, [(4,28),(12,32),(18,26),(12,20),(6,22)]),
    (0, [(24,34),(30,36),(34,28),(28,24)]),
    (0, [(22,14),(30,20),(34,14),(36,8),(28,6)]),
    (0, [(40,30),(48,34),(52,28),(44,24)]),
    (0, [(58,24),(64,22),(66,26),(60,28)]),
    (0, [(34,-4),(42,2),(48,-4),(44,-12),(38,-12)]),
    (0, [(52,-6),(58,2),(62,-4),(60,-14),(54,-14)]),
    (0, [(66,-8),(76,-4),(84,-2),(86,-8),(78,-10),(70,-14)]),
    (0, [(76,-20),(84,-18),(88,-24),(84,-28),(76,-25)]),
    (0, [(50,-26),(60,-28),(68,-24),(62,-14),(52,-16)]),
    (0, [(72,-20),(78,-16),(80,-24),(74,-30)]),
    (0, [(96,-4),(100,-6),(100,10),(96,4)]),
    # orange holes in the blue mass
    (1, [(-96,28),(-88,30),(-84,20),(-92,14),(-96,20)]),
    (1, [(-78,32),(-70,30),(-66,24),(-74,18),(-80,24)]),
    (1, [(-98,6),(-94,8),(-90,-2),(-94,-12),(-98,-6)]),
    (1, [(-88,-14),(-80,-10),(-74,-16),(-82,-20)]),
    (1, [(-64,-22),(-58,-18),(-54,-28),(-60,-32)]),
    (1, [(-44,-26),(-38,-22),(-34,-30),(-42,-34)]),
    (1, [(-30,-12),(-24,-8),(-18,-14),(-20,-22),(-28,-22)]),
    (1, [(-14,8),(-6,14),(0,6),(-4,0),(-12,0)]),
    (1, [(-8,-12),(2,-6),(8,-10),(4,-20),(-4,-20)]),
    (1, [(-80,-34),(-72,-30),(-66,-38),(-72,-44),(-80,-42)]),
    (1, [(-58,-36),(-50,-32),(-42,-38),(-44,-46),(-56,-46)]),
    (1, [(-18,-30),(-10,-28),(-6,-34),(-14,-38)]),
    (1, [(-50,4),(-44,8),(-38,2),(-46,-4)]),
    (1, [(8,-26),(14,-30),(18,-36),(10,-38),(4,-32)]),
]
R2B_NO_REG = [
    (1, [(-9,68),(-7,56),(-3,44),(0,40),(3,44),(10,37.5),(19.5,25),(16,17),(13,11.5),(12,3),(9,-1.5),(6,-10),(3,-15),(3,-24.5),(0,-29),(-5,-36),(-9,-39),(-16,-33),(-34.5,-36),(-36.5,-32),(-51,-31.5),(-49,-24.5),(-56,-23),(-61,-8),(-61,40),(-54,37),(-41.5,37.5),(-41.5,47.5),(-47,55),(-61,67),(-61,68)]),
    (1, [(-9,-39),(-9,-43),(2,-44),(7,-42.5),(15,-44),(17,-47.5),(26,-50.5),(34,-47),(35,-51),(26,-53),(23,-60),(17,-60),(15,-52),(7,-50.5),(7,-45),(0,-44)]),
    (1, [(51,-38),(60,-41),(68,-47.5),(68,-60),(56,-60),(51,-52),(49,-40)]),
    (1, [(21,18),(24,18),(26,12),(34,14),(34,10),(26,8),(23,2),(20,0),(18,-4),(18,-6),(16,6),(18,12)]),
    (1, [(37,-55),(39,-53),(42,-60),(40,-60)]),
    (1, [(-3,-50),(-2,-52),(-4,-53)]),
    (1, [(20,-29),(23,-28),(25,-31),(21,-31)]),
    (1, [(31,-6),(32,-7),(31,-8)]),
    (1, [(42,-10),(44,-9),(43,-11)]),
]
R2B_PG_REG = [
    (1, [(-9,67),(-5,46.6),(1.5,42),(7,41),(14,30),(19,22.7),(14,13.4),(6.3,2.6),(4.4,-11),(3.4,-26.7),(-2.3,-31.4),(-5,-33),(-8,-42),(-3,-43),(6,-41),(14,-42),(28,-46),(34,-47),(27,-50),(24,-54),(24,-70),(19,-70),(18,-58),(6,-48),(-4,-45),(-8,-42),(-20.5,-31),(-38,-30),(-49,-32),(-51,-27.5),(-53,-19),(-53,36.6),(-41.5,38),(-41.5,47.4),(-49,56.7),(-53,60),(-53,67)]),
    (1, [(49.5,-40),(58,-37),(68,-38),(68,-70),(60,-70),(52,-56),(49,-46)]),
    (1, [(38,-55),(40,-55),(50,-68),(48,-68)]),
    (0, [(0,-45),(4,-43),(6,-48),(1,-50)]),
    (1, [(24,-28),(28,-26),(29,-31),(24,-31)]),
    (1, [(31,-6),(33,-5),(32,-8)]),
    (1, [(42,-10),(44,-9),(43,-11)]),
    (1, [(4,-30),(7,-28),(6,-33)]),
    (1, [(20,16),(30,14),(34,12),(26,6),(22,0),(16,2),(16,10)]),
]
R3A_REG = [
    (3, [(-67,62),(-56,50.5),(-47,38),(-40.5,34),(-32,36.5),(-23,31),(-11,24),(-3,16),(1.5,12.5),(0,1),(-3,-4),(-12,-7),(-21,-10),(-27,-17),(-32,-22),(-38,-28),(-43,-46),(-63,-72),(-67,-72)]),
    (1, [(-67,62),(-65,60),(-56,50.5),(-47,38),(-40.5,34),(-32,36.5),(-23,31),(-11,24),(-3,16),(1.5,12.5),(6,17),(10,19),(19,21),(32,24),(38,29),(40,35),(48,31),(57,36),(69,41.5),(69,70),(-67,70)]),
    (2, [(1.5,12.5),(6,17),(10,19),(19,21),(32,24),(38,29),(40,35),(48,31),(57,36),(69,41.5),(69,-56),(56.5,-46.5),(43,-35),(39,-31),(32,-25),(21,-23.5),(14.5,-21),(3.5,-17),(0,-10),(0,1)]),
    (3, [(-38,34),(-36,31),(-34,34),(-36,36)]),
    (2, [(-39,33),(-37,30),(-38,29),(-40,31)]),
    (3, [(8,15),(10,14),(8,12),(6,13)]),
    (1, [(-4,-24),(-1,-24),(-2,-30),(-4,-29)]),
    (3, [(-8,-12),(-4,-10),(-3,-16),(-7,-16)]),
]
R3B_REG = [
    (2, [(-67,-16),(-60,-12),(-56,-4),(-45,-1),(-35,-4),(-5,-12),(45,-12),(60,-12),(68,-17),(68,-71),(-67,-71)]),
    (2, [(-67,56),(-50,47),(-49,41),(-54,36),(-67,40)]),
    (3, [(52,38),(61,43),(68,55),(68,36),(61,34.5)]),
    (0, [(-58,66),(-43,66),(-42,61.5),(-46.5,57.5)]),
    (0, [(-36,66),(-30.5,66),(-31,61),(-34,60)]),
    (3, [(-30.5,66),(-27,66),(-28,60)]),
    (0, [(-10,66),(-5,66),(-6,60),(-9,60)]),
    (3, [(-67,10),(-58,15),(-55,24),(-48,24),(-40,22),(-36,26),(-25,28),(-15,31),(-5,32),(5,32),(15,32),(30,31),(35,25),(42,24),(48,21),(52,18),(56,14),(60,8),(62,6),(50,6),(40,8),(30,7),(23,7),(20,3),(10,2),(0,3),(-8,5),(-20,5),(-35,3),(-40,-1),(-50,-2),(-58,-3),(-62,-7),(-67,-8)]),
    (0, [(-35,-2),(-30,0),(-24,3),(-18,5),(-10,5),(-3,6),(0,1),(10,2),(20,0),(24,5),(28,7),(33,3),(42,1),(48,-3),(52,-5),(56,-13),(55,-19),(52,-22),(50,-28),(45,-30),(38,-36),(28,-40),(20,-42),(12,-44),(5,-42),(-5,-40),(-12,-38),(-18,-30),(-25,-31),(-33,-28),(-35,-20),(-36,-10)]),
    (1, [(33,3),(42,1),(48,-3),(50,-8),(56,-12),(60,-10),(62,6),(52,3),(44,6)]),
    (3, [(0,1),(10,2),(20,0),(18,5),(10,6),(0,6)]),
    (0, [(60,20),(68,22),(68,13),(62,15)]),
    (0, [(-67,21),(-60,20),(-58,16),(-67,13)]),
    (0, [(60,5),(68,8),(68,-2),(62,-3)]),
    (3, [(64,-13),(68,-20),(68,-13)]),
    (0, [(-67,-9),(-59,-9),(-58,-14),(-67,-14)]),
    (0, [(26,-71),(28.5,-59),(28.5,-71)]),
    (1, [(28.5,-59),(36,-71),(28.5,-71)]),
    (3, [(28.5,-59),(31,-56),(38.5,-54),(52,-71),(36,-71)]),
    (0, [(-43,-58),(-40,-52),(-38,-51),(-41,-55)]),
    (2, [(2,30),(6,32),(8,28),(4,26)]),
    (0, [(24,34),(28,36),(30,32),(25,31)]),
    (2, [(-10,18),(-6,20),(-5,14),(-9,13)]),
    (2, [(40,5),(48,6),(52,9),(45,11)]),
]

LIMS = [
    [((-90.2,100),(-95.7,101)), ((-89.5,99.5),(-94.7,100.4)), ((-98.5,98.5),(-82.8,98)), ((-97.8,100.9),(-82,97.3))],
    [((-66.3,70.8),(-75.2,73.8)), ((-66.6,70.4),(-75.2,73.8)), ((-59.8,67),(-59,66)), ((-52,67),(-68.4,65.6))],
    [((-65,67.6),(-70,68.5)), ((-58.7,67.4),(-70,68.5)), ((-65.5,67.2),(-69,64.8)), ((-65.8,68),(-65.9,67.6))],
]
XT25 = [-75,-50,-25,0,25,50,75]
XT20 = [-60,-40,-20,0,20,40,60]
YT25 = [-75,-50,-25,0,25,50,75,100]
TICKS = [
    [(XT25+[100], YT25), (XT25, YT25), (XT25, [-75,-50,-25,0,25,50,75]), (XT25, [-80,-60,-40,-20,0,20,40,60,80])],
    [(XT20, XT20), (XT20, XT20), ([-40,-20,0,20,40,60], [-40,-20,0,20,40,60]), ([-40,-20,0,20,40,60], XT20)],
    [(XT20, XT20), ([-40,-20,0,20,40,60], XT20), (XT20, XT20), (XT20, XT20)],
]
X_PX = [(95,478), (590,972), (1083,1465), (1577,1960)]
Y_PX = [(56,347), (441,730), (825,1114)]

COL = {0:'#1f77b4', 1:'#ff7f0e', 2:'#2ca02c', 3:'#d62728'}
FILL = {0:'#9bc0dc', 1:'#ffc28f', 2:'#a9d4a2', 3:'#ec9e9e'}
MARK = {0:'s', 1:'^', 2:'o', 3:'x'}


def panel(r, c, bg, regions, classes, legend_loc='upper right', specks=None):
    x0, x1 = X_PX[c]
    y0, y1 = Y_PX[r]
    ax = plt.gcf().add_axes([x0/W, 1-y1/H, (x1-x0)/W, (y1-y0)/H])
    ax.set_facecolor(FILL[bg])
    for k, poly in regions:
        ax.fill([p[0] for p in poly], [p[1] for p in poly], fc=FILL[k], ec='#1c2733', lw=0.8)
    for k, pts in enumerate(classes):
        xs = [p[0] for p in pts]
        ys = [p[1] for p in pts]
        if k == 3:
            ax.scatter(xs, ys, s=38, marker='x', c=COL[k], alpha=0.8, lw=1.3, label=str(k), zorder=3)
        else:
            ax.scatter(xs, ys, s=36, marker=MARK[k], c=COL[k], alpha=0.85, ec='black', lw=1, label=str(k), zorder=3)
    if specks:
        ax.scatter([p[0] for p in specks], [p[1] for p in specks], s=4, c='black', lw=0, zorder=2)
    ax.set_xlim(LIMS[r][c][0])
    ax.set_ylim(LIMS[r][c][1])
    ax.set_xticks(TICKS[r][c][0])
    ax.set_yticks(TICKS[r][c][1])
    ax.tick_params(labelsize=8.6, length=3.5, width=0.8)
    for s in ax.spines.values():
        s.set_visible(False)
    ax.legend(loc=legend_loc, fontsize=8.6, framealpha=0.45, edgecolor='none', borderaxespad=0.5,
              borderpad=0.5, labelspacing=0.55, handletextpad=1.0, handlelength=1.7)


def put(x, y, s, rot=0, size=31):
    plt.gcf().text(x/W, 1-y/H, s, fontsize=size, rotation=rot, ha='center', va='center')


def main():
    fig = plt.figure(figsize=(W/100, H/100), dpi=100)
    panel(0, 0, 1, R1A_REG, [R1A_0, R1A_1])
    panel(0, 1, 1, R1A_REG, [R1A_0, R1A_1])
    panel(0, 2, 1, R1B_REG, [R1B_0, R1B_1])
    panel(0, 3, 1, R1B_REG, [R1B_0, R1B_1])
    panel(1, 0, 0, R2A_REG, [R2A_0, R2A_1])
    panel(1, 1, 0, R2A_REG, [R2A_0, R2A_1])
    panel(1, 2, 0, R2B_NO_REG, [R2B_NO_0, R2B_NO_1])
    panel(1, 3, 0, R2B_PG_REG, [R2B_PG_0, R2B_PG_1])
    panel(2, 0, 0, R3A_REG, [R3A_NO_0, R3A_NO_1, R3A_NO_2, R3A_NO_3])
    panel(2, 1, 0, R3A_REG, [R3A_PG_0, R3A_PG_1, R3A_PG_2, R3A_PG_3])
    panel(2, 2, 1, R3B_REG, [R3B_NO_0, R3B_NO_1, R3B_NO_2, R3B_NO_3], 'lower right', SPECKS_NO)
    panel(2, 3, 1, R3B_REG, [R3B_PG_0, R3B_PG_1, R3B_PG_2, R3B_PG_3], 'lower right', SPECKS_PG)

    put(289, 23, 'No Attack')
    put(790, 22, 'PGD Attack')
    put(1280, 27, 'No Attack')
    put(1753, 27, 'PGD Attack')
    put(21, 203, 'Chest X-ray', 90)
    put(23, 591, 'Dermoscopy', 90)
    put(19, 980, 'OCT', 90)
    put(520, 1206, '(a)', size=40)
    put(1519, 1206, '(b)', size=40)
    put(566, 1292, 'CBR-LargeT')
    put(1528, 1292, 'Resnet50')

    # divider lines, in figure pixels
    over = fig.add_axes([0, 0, 1, 1], facecolor='none')
    over.set_xlim(0, W)
    over.set_ylim(H, 0)
    over.axis('off')
    over.plot([1024, 1024], [10, 1250], color='black', lw=1.6)
    over.plot([93, 1784, 1946], [1251, 1251, 1255], color='black', lw=2.6)
    fig.savefig('out.png', dpi=100)


if __name__ == "__main__":
    main()
